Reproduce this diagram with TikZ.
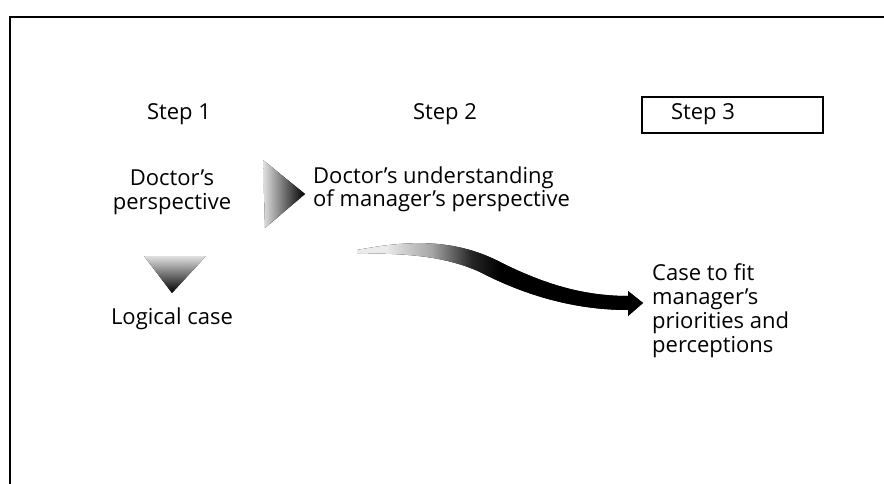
\documentclass[tikz,border=0pt]{standalone}
\usepackage{fontspec}
\setmainfont{Open Sans}
% light-to-black ramp for the bent arrow (25bp = left edge, 75bp = right edge)
\pgfdeclarehorizontalshading{bendramp}{100bp}{color(0bp)=(black!8); color(30bp)=(black!8); color(38bp)=(black!35); color(45bp)=(black!85); color(50bp)=(black); color(100bp)=(black)}
\begin{document}
\begin{tikzpicture}[x=1pt,y=-1pt,
  txt/.style={font=\fontsize{22}{24}\selectfont, inner sep=0pt, anchor=base},
  stepbox/.style={draw, line width=1.2pt},
  wedge/.style={draw=none}]
\def\stepy{120}
\def\rowy{209} % baseline of the second text row
\useasboundingbox (0,0) rectangle (884,484);

% frame
\draw[line width=1.8pt] (10,484) -- (10,17) -- (884,17);

% step headings
\node[txt] (s1) at (179, \stepy) {Step 1};
\node[txt] (s2) at (445, \stepy) {Step 2};
\node[txt] (s3) at (703, \stepy) {Step 3};
\draw[stepbox] (642,97) rectangle (823,133);

% labels (base = last line)
\node[txt, align=center] (dp) at (172, \rowy) {Doctor's\\perspective};
\node[txt, align=left, anchor=base west] (du) at (313, \rowy - 2) {Doctor's understanding\\of manager's perspective};
\node[txt] (lc) at (172, 324) {Logical case};
\node[txt, align=left, anchor=base west] (cf) at (652, 352) {Case to fit\\manager's\\priorities and\\perceptions};

% wedges
\coordinate (rt1) at (263,160);
\coordinate (rt2) at (305,194);
\coordinate (rt3) at (265,228);
\fill[wedge, left color=black!12, right color=black] (rt1) -- (rt2) -- (rt3) -- cycle; % step 1 to step 2
\coordinate (dt1) at (144,256);
\coordinate (dt2) at (206,256);
\coordinate (dt3) at (172,293);
\fill[wedge, top color=black!12, bottom color=black] (dt1) -- (dt2) -- (dt3) -- cycle; % down to logical case

% bent arrow, understanding to case
\coordinate (ba) at (357,250);
\coordinate (bt) at (643,303);
\fill[shading=bendramp] (ba) .. controls (400,242) and (450,236) .. (500,262)
  .. controls (540,282) and (580,296) .. (628,296)
  -- (628,291) -- (bt) -- (628,316) -- (628,310)
  .. controls (580,310) and (530,298) .. (480,272)
  .. controls (440,254) and (400,254) .. (357,253) -- cycle;
\end{tikzpicture}
\end{document}
